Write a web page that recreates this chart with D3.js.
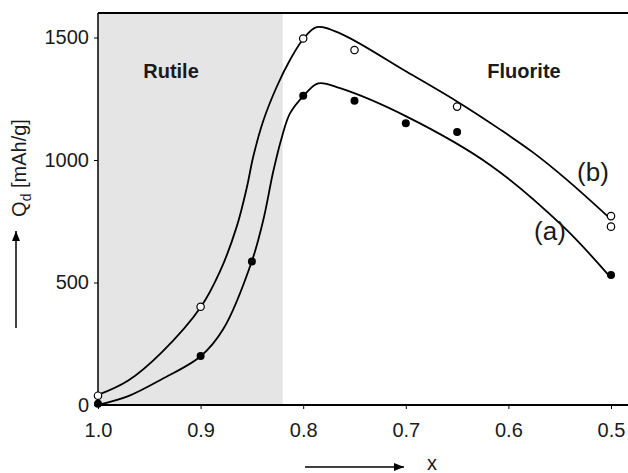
<!DOCTYPE html>
<html><head><meta charset="utf-8">
<script src="https://cdn.jsdelivr.net/npm/d3@7"></script>
<style>html,body{margin:0;padding:0;background:#fff}svg{display:block}text{font-family:"Liberation Sans",Arial,sans-serif;fill:#1a1a1a}</style>
</head><body>
<script>
// measured points (x, Qd)
const xA = [1.0, 0.9, 0.85, 0.80, 0.75, 0.70, 0.65, 0.50];
const yA = [5, 200, 586, 1262, 1242, 1150, 1114, 531];
const xB = [1.0, 0.9, 0.80, 0.75, 0.65, 0.50, 0.50];
const yB = [38, 401, 1496, 1449, 1218, 771, 728];
// fitted curves
const fitAx = [1.0, 0.9705, 0.9379, 0.8996, 0.8779, 0.8502, 0.8389, 0.8291, 0.821, 0.8129, 0.7999, 0.7853, 0.7641, 0.6991, 0.6179, 0.5465, 0.5026];
const fitAy = [0, 36, 105, 200, 310, 585, 755, 955, 1090, 1190, 1261, 1313, 1293, 1177, 980, 728, 531];
const fitBx = [1.0, 0.9705, 0.9379, 0.8996, 0.8811, 0.8648, 0.8551, 0.8486, 0.8389, 0.8258, 0.8129, 0.7999, 0.7868, 0.7641, 0.6991, 0.6505, 0.6082, 0.5757, 0.5432, 0.5026];
const fitBy = [41, 100, 215, 401, 545, 728, 885, 1015, 1160, 1299, 1408, 1494, 1542, 1517, 1360, 1240, 1125, 1030, 920, 768];
const xTicks = [1.0, 0.9, 0.8, 0.7, 0.6, 0.5];
const yTicks = [0, 500, 1000, 1500];
const rutileEdge = 0.82;

const W = 628, H = 473;
const L = 98, R = 628, T = 13, B = 405;
const svg = d3.select("body").append("svg").attr("width", W).attr("height", H);
const x = d3.scaleLinear().domain([1.0, 0.5]).range([L, 611]);
const y = d3.scaleLinear().domain([0, 1600]).range([B, T]);

svg.append("rect").attr("x", x(1.0)).attr("y", y(1600)).attr("width", x(rutileEdge) - x(1.0)).attr("height", y(0) - y(1600)).attr("fill", "#e5e5e5");

// top border
svg.append("line").attr("x1", L).attr("x2", R).attr("y1", y(1600)).attr("y2", y(1600)).attr("stroke", "#000").attr("stroke-width", 2);

const xAxis = svg.append("g").attr("transform", `translate(0,${B})`).call(d3.axisBottom(x).tickValues(xTicks).tickFormat(d3.format(".1f")).tickSize(4).tickSizeOuter(0));
xAxis.select(".domain").attr("d", `M${L},0H${R}`).attr("stroke-width", 2);
const yAxis = svg.append("g").attr("transform", `translate(${L},0)`).call(d3.axisLeft(y).tickValues(yTicks).tickFormat(d3.format("d")).tickSize(4).tickSizeOuter(0).tickPadding(5));
yAxis.select(".domain").attr("d", `M0,${y(1600)}V${B}`).attr("stroke-width", 1.5);
svg.selectAll(".tick text").attr("font-size", 20).attr("font-family", '"Liberation Sans",Arial,sans-serif').attr("fill", "#1a1a1a");
xAxis.selectAll(".tick text").attr("y", 18).attr("dy", "0.71em");

const line = d3.line().x(d => x(d[0])).y(d => y(d[1])).curve(d3.curveCatmullRom.alpha(0.5));
const fa = fitAx.map((v, i) => [v, fitAy[i]]);
const fb = fitBx.map((v, i) => [v, fitBy[i]]);
[fa, fb].forEach(p => svg.append("path").attr("d", line(p)).attr("fill", "none").attr("stroke", "#000").attr("stroke-width", 1.8));

svg.selectAll("circle.a").data(xA.map((v, i) => [v, yA[i]])).join("circle")
  .attr("cx", d => x(d[0])).attr("cy", d => y(d[1])).attr("r", 4).attr("fill", "#000");
svg.selectAll("circle.b").data(xB.map((v, i) => [v, yB[i]])).join("circle")
  .attr("cx", d => x(d[0])).attr("cy", d => y(d[1])).attr("r", 3.7).attr("fill", "#fff").attr("stroke", "#000").attr("stroke-width", 1.2);

svg.append("text").attr("x", 171).attr("y", 78).attr("text-anchor", "middle").attr("font-size", 20).attr("font-weight", "bold").text("Rutile");
svg.append("text").attr("x", 524).attr("y", 78).attr("text-anchor", "middle").attr("font-size", 20).attr("font-weight", "bold").text("Fluorite");
svg.append("text").attr("x", 593).attr("y", 181).attr("text-anchor", "middle").attr("font-size", 26).text("(b)");
svg.append("text").attr("x", 550).attr("y", 240).attr("text-anchor", "middle").attr("font-size", 26).text("(a)");

// y title
const yt = svg.append("text").attr("transform", "translate(26,168) rotate(-90)").attr("text-anchor", "middle").attr("font-size", 20);
yt.append("tspan").text("Q");
yt.append("tspan").attr("font-size", 14).attr("dy", 5).text("d");
yt.append("tspan").attr("dy", -5).text(" [mAh/g]");

svg.append("defs").append("marker").attr("id", "ah").attr("viewBox", "0 0 10 10").attr("refX", 10).attr("refY", 5)
  .attr("markerWidth", 10).attr("markerHeight", 10).attr("markerUnits", "userSpaceOnUse").attr("orient", "auto")
  .append("path").attr("d", "M0,1L10,5L0,9Z").attr("fill", "#000");
svg.append("line").attr("x1", 16).attr("x2", 16).attr("y1", 328).attr("y2", 231).attr("stroke", "#000").attr("stroke-width", 1.5).attr("marker-end", "url(#ah)");
svg.append("line").attr("x1", 305).attr("x2", 404).attr("y1", 467).attr("y2", 467).attr("stroke", "#000").attr("stroke-width", 1.5).attr("marker-end", "url(#ah)");
svg.append("text").attr("x", 432).attr("y", 470).attr("text-anchor", "middle").attr("font-size", 20).text("x");
</script>
</body></html>
